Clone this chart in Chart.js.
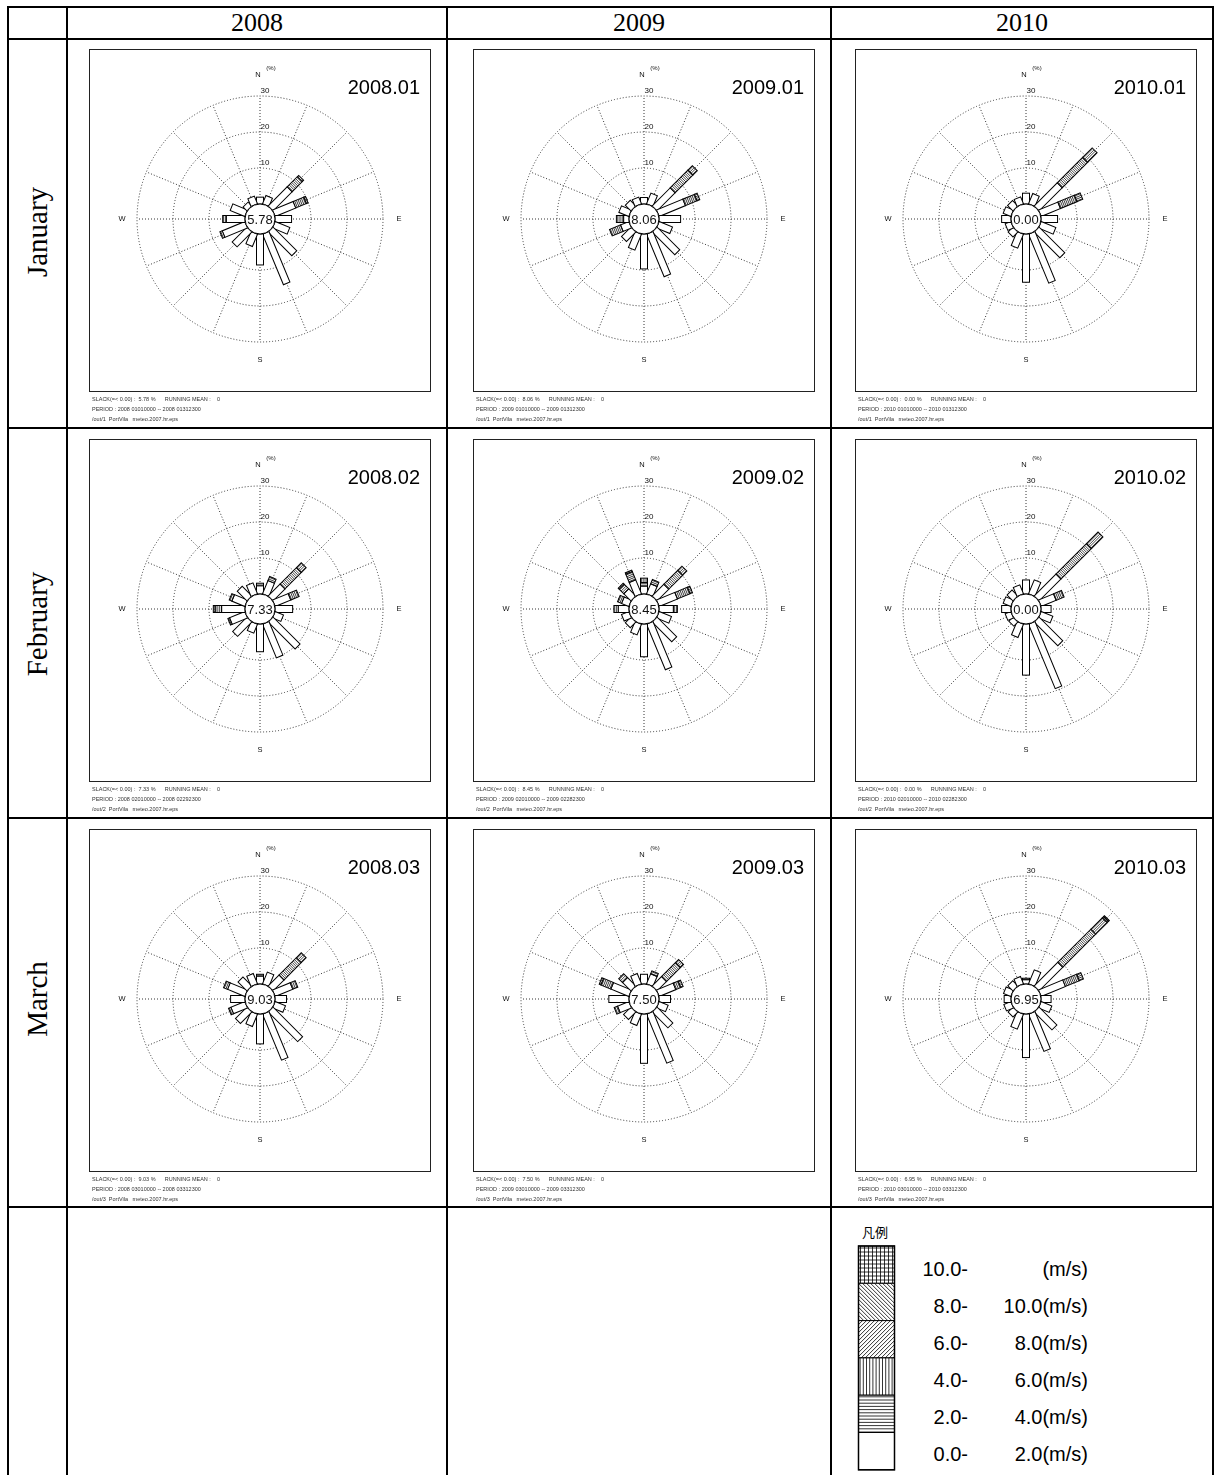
<!DOCTYPE html>
<html>
<head>
<meta charset="utf-8">
<script src="https://cdn.jsdelivr.net/npm/chart.js@4.4.1/dist/chart.umd.min.js"></script>
<style>
  body { margin: 0; background: #fff; }
  #page { position: relative; width: 1214px; height: 1475px; overflow: hidden; background: #fff; }
  .ln { position: absolute; background: #000; }
  .hdr { position: absolute; font-family: "Liberation Serif", "DejaVu Serif", serif; font-size: 26px; color: #000; text-align: center; line-height: 30px; }
  .rowlbl { position: absolute; font-family: "Liberation Serif", "DejaVu Serif", serif; font-size: 29px; color: #000; width: 200px; text-align: center; line-height: 30px; transform: rotate(-90deg); }
  canvas.rose { position: absolute; }
  .lg { position: absolute; font-family: "Liberation Sans", Arial, sans-serif; font-size: 20px; color: #000; line-height: 24px; text-align: right; }
</style>
</head>
<body>
<div id="page"></div>
<script>
// wind directions, clockwise from north
const directions = ["N", "NNE", "NE", "ENE", "E", "ESE", "SE", "SSE", "S", "SSW", "SW", "WSW", "W", "WNW", "NW", "NNW"];
const speedClasses = ["0.0-2.0", "2.0-4.0", "4.0-6.0", "6.0-8.0", "8.0-10.0", "10.0-"];
const years = ["2008", "2009", "2010"];
const months = ["January", "February", "March"];
const radialTicks = [0, 10, 20, 30];
const calmValues = [
  [5.78, 8.06, 0.00],
  [7.33, 8.45, 0.00],
  [9.03, 7.50, 6.95],
];
const periods = [
  ["2008 01010000 -- 2008 01312300", "2009 01010000 -- 2009 01312300", "2010 01010000 -- 2010 01312300"],
  ["2008 02010000 -- 2008 02292300", "2009 02010000 -- 2009 02282300", "2010 02010000 -- 2010 02282300"],
  ["2008 03010000 -- 2008 03312300", "2009 03010000 -- 2009 03312300", "2010 03010000 -- 2010 03312300"],
];

// frequency (%) per speed class, one row per class, 16 directions each
const rose2008_01 = [
  [1.9, 2.5, 7.5, 6.2, 4.6, 4.4, 9.3, 15.2, 8.6, 3.7, 5.8, 6.8, 5.2, 4.4, 1.5, 2.3],
  [0, 0, 4.0, 3.2, 0, 0, 0, 0, 0, 0, 0, 0.7, 1.0, 0, 0, 0],
  [0, 0, 0.5, 0.5, 0, 0, 0, 0, 0, 0, 0, 0, 0, 0, 0, 0],
];
const rose2009_01 = [
  [1.8, 3.2, 7.1, 7.9, 6.0, 4.0, 8.9, 12.8, 9.7, 4.8, 3.7, 2.5, 1.5, 3.0, 2.2, 2.0],
  [0, 0, 7.0, 3.5, 0, 0, 0, 0, 0, 0, 0, 3.3, 2.0, 0, 0, 0],
  [0, 0, 1.7, 0.8, 0, 0, 0, 0, 0, 0, 0, 0, 0, 0, 0, 0],
];
const rose2010_01 = [
  [3.0, 3.1, 9.1, 5.8, 4.6, 4.4, 10.1, 14.7, 13.4, 4.2, 1.9, 1.7, 2.6, 2.3, 2.1, 2.1],
  [0, 0, 10.0, 5.0, 0, 0, 0, 0, 0, 0, 0, 0, 0, 0, 0, 0],
  [0, 0, 3.7, 1.7, 0, 0, 0, 0, 0, 0, 0, 0, 0, 0, 0, 0],
];
const rose2008_02 = [
  [2.3, 4.0, 4.7, 4.7, 4.9, 2.5, 10.6, 10.1, 7.7, 2.7, 5.6, 4.6, 6.5, 3.9, 3.8, 3.3],
  [0.7, 1.2, 6.5, 2.5, 0, 0, 0, 0, 0, 0, 0, 0.5, 1.8, 0.8, 0, 0],
  [0, 0, 1.8, 0, 0, 0, 0, 0, 0, 0, 0, 0, 0.5, 0, 0, 0],
];
const rose2009_02 = [
  [2.2, 3.0, 4.6, 5.5, 4.0, 3.7, 7.7, 13.7, 9.1, 3.2, 2.2, 2.2, 3.0, 2.2, 2.8, 4.2],
  [1.0, 1.3, 5.5, 3.8, 1.1, 0, 0, 0, 0, 0, 0, 0, 1.2, 1.2, 1.8, 2.5],
  [1.2, 0, 1.6, 0.7, 0, 0, 0, 0, 0, 0, 0, 0, 0, 0, 0.4, 0.4],
];
const rose2010_02 = [
  [3.9, 4.2, 8.6, 4.5, 2.8, 3.5, 9.3, 19.4, 14.2, 4.0, 1.6, 1.7, 2.6, 2.3, 2.3, 2.7],
  [0, 0, 12.0, 2.4, 0, 0, 0, 0, 0, 0, 0, 0, 0, 0, 0, 0],
  [0, 0, 4.5, 0, 0, 0, 0, 0, 0, 0, 0, 0, 0, 0, 0, 0],
];
const rose2008_03 = [
  [2.2, 3.5, 4.3, 5.3, 3.2, 3.1, 11.6, 13.8, 8.3, 3.7, 4.5, 4.2, 4.0, 5.2, 3.5, 3.1],
  [0.5, 0, 6.8, 1.5, 0, 0, 0, 0, 0, 0, 0, 0.7, 0, 1.2, 0, 0],
  [0, 0, 1.9, 0, 0, 0, 0, 0, 0, 0, 0, 0, 0, 0, 0, 0],
];
const rose2009_03 = [
  [2.7, 3.0, 3.7, 5.0, 3.2, 2.7, 6.2, 14.7, 13.7, 3.4, 2.9, 3.4, 5.6, 5.4, 3.3, 3.1],
  [0, 0.9, 5.5, 1.5, 0, 0, 0, 0, 0, 0, 0, 1.0, 0, 3.0, 1.5, 0],
  [0, 0, 1.2, 0.7, 0, 0, 0, 0, 0, 0, 0, 0, 0, 0.5, 0, 0],
];
const rose2010_03 = [
  [1.2, 4.2, 9.3, 7.3, 2.8, 3.2, 7.0, 11.2, 12.1, 4.5, 1.9, 2.1, 1.9, 2.2, 2.0, 2.2],
  [0.4, 0, 13.0, 4.2, 0, 0, 0, 0, 0, 0, 0, 0, 0, 0, 0, 0],
  [0, 0, 4.5, 1.2, 0, 0, 0, 0, 0, 0, 0, 0, 0, 0, 0, 0],
  [0, 0, 0.5, 0, 0, 0, 0, 0, 0, 0, 0, 0, 0, 0, 0, 0],
  [0, 0, 0.3, 0, 0, 0, 0, 0, 0, 0, 0, 0, 0, 0, 0, 0],
];
const roses = [
  [rose2008_01, rose2009_01, rose2010_01],
  [rose2008_02, rose2009_02, rose2010_02],
  [rose2008_03, rose2009_03, rose2010_03],
];

// page geometry
const colLines = [7, 66, 446, 830, 1212];
const rowLines = [6, 38, 427, 817, 1206];
const boxLeft = [89, 473, 855];
const boxTop = [49, 439, 829];
const rowLabelY = [232, 624, 999];
const BOX_W = 342, BOX_H = 343, FOOT_H = 36;
const BAR_W = 7;
const SANS = '"Liberation Sans", Arial, sans-serif';

const page = document.getElementById("page");

// Add an absolutely positioned element to the page.
const addEl = (tag, cls, style, text) => {
  const el = document.createElement(tag);
  if (cls) el.className = cls;
  Object.assign(el.style, style);
  if (text !== undefined) el.textContent = text;
  page.appendChild(el);
  return el;
};

// table rules
colLines.forEach((x) => addEl("div", "ln", { left: x + "px", top: rowLines[0] + "px", width: "2px", height: 1475 - rowLines[0] + "px" }));
rowLines.forEach((y) => addEl("div", "ln", { left: colLines[0] + "px", top: y + "px", width: 1214 - colLines[0] + "px", height: "2px" }));

years.forEach((y, c) => {
  addEl("div", "hdr", { left: colLines[c + 1] + 2 + "px", top: "8px", width: colLines[c + 2] - colLines[c + 1] - 2 + "px" }, y);
});
months.forEach((m, r) => {
  addEl("div", "rowlbl", { left: 37 - 100 + "px", top: rowLabelY[r] - 15 + "px" }, m);
});

// Fill rectangle (x0,y0,w,h) with the hatch of speed class k.
const hatchRect = (ctx, k, x0, y0, w, h, gap, lw) => {
  ctx.save();
  ctx.beginPath();
  ctx.rect(x0, y0, w, h);
  ctx.fillStyle = "#fff";
  ctx.fill();
  ctx.clip();
  ctx.beginPath();
  if (k === 1 || k === 5) for (let y = y0 + gap / 2; y < y0 + h; y += gap) { ctx.moveTo(x0, y); ctx.lineTo(x0 + w, y); }
  if (k === 2 || k === 5) for (let x = x0 + gap / 2; x < x0 + w; x += gap) { ctx.moveTo(x, y0); ctx.lineTo(x, y0 + h); }
  if (k === 3) for (let t = -w; t < h + w; t += gap) { ctx.moveTo(x0, y0 + t + w); ctx.lineTo(x0 + w, y0 + t); }
  if (k === 4) for (let t = -w; t < h + w; t += gap) { ctx.moveTo(x0, y0 + t); ctx.lineTo(x0 + w, y0 + t + w); }
  ctx.lineWidth = lw;
  ctx.strokeStyle = "#000";
  ctx.stroke();
  ctx.restore();
  ctx.lineWidth = 1;
  ctx.strokeStyle = "#000";
  ctx.strokeRect(x0, y0, w, h);
};

// Draws stacked bars, calm circle and all panel texts using the radial scale.
const rosePlugin = {
  id: "rose",
  afterDraw(chart, args, opts) {
    const ctx = chart.ctx;
    const s = chart.scales.r;
    const cx = s.xCenter, cy = s.yCenter;
    const r0 = s.getDistanceFromCenterForValue(0);
    const sets = chart.data.datasets;

    ctx.save();
    directions.forEach((d, i) => {
      const ang = s.getIndexAngle(i);
      ctx.save();
      ctx.translate(cx, cy);
      ctx.rotate(ang);
      let cum = 0;
      sets.forEach((ds, k) => {
        const v = ds.data[i];
        if (!v) return;
        const a = s.getDistanceFromCenterForValue(cum);
        const b = s.getDistanceFromCenterForValue(cum + v);
        hatchRect(ctx, k, -BAR_W / 2, -b, BAR_W, b - a, 1.8, 0.7);
        cum += v;
      });
      ctx.restore();
    });

    // calm circle
    ctx.beginPath();
    ctx.arc(cx, cy, r0, 0, Math.PI * 2);
    ctx.fillStyle = "#fff";
    ctx.fill();
    ctx.lineWidth = 1;
    ctx.strokeStyle = "#000";
    ctx.stroke();
    ctx.fillStyle = "#111";
    ctx.textAlign = "center";
    ctx.textBaseline = "middle";
    ctx.font = "13px " + SANS;
    ctx.fillText(opts.calm.toFixed(2), cx, cy + 1);

    // ring labels
    ctx.font = "8px " + SANS;
    radialTicks.slice(1).forEach((t) => {
      ctx.fillText(String(t), cx + 5, cy - s.getDistanceFromCenterForValue(t) - 5);
    });

    // compass letters
    ctx.font = "7.5px " + SANS;
    ctx.fillText("N", cx - 2, cy - 144);
    ctx.fillText("S", cx, cy + 141);
    ctx.fillText("W", cx - 138, cy);
    ctx.fillText("E", cx + 139, cy);
    ctx.font = "6px " + SANS;
    ctx.fillText("(%)", cx + 11, cy - 151);

    // panel title
    ctx.font = "20px " + SANS;
    ctx.textAlign = "right";
    ctx.fillStyle = "#000";
    ctx.fillText(opts.title, 331, 39);

    // frame
    ctx.lineWidth = 1;
    ctx.strokeStyle = "#222";
    ctx.strokeRect(0.5, 0.5, BOX_W - 1, BOX_H - 1);

    // footer
    ctx.font = "5.5px " + SANS;
    ctx.textAlign = "left";
    ctx.fillStyle = "#333";
    ctx.fillText("SLACK(=< 0.00) :  " + opts.calm.toFixed(2) + " %      RUNNING MEAN :    0", 3, BOX_H + 7);
    ctx.fillText("PERIOD : " + opts.period, 3, BOX_H + 17);
    ctx.fillText("/out/" + opts.month + "  PortVila   meteo.2007.hr.eps", 3, BOX_H + 27);
    ctx.restore();
  },
};

roses.forEach((row, r) => {
  row.forEach((rose, c) => {
    const canvas = addEl("canvas", "rose", { left: boxLeft[c] + "px", top: boxTop[r] + "px" });
    canvas.width = BOX_W;
    canvas.height = BOX_H + FOOT_H;
    new Chart(canvas, {
      type: "radar",
      data: {
        labels: directions,
        datasets: rose.map((vals, k) => ({
          label: speedClasses[k],
          data: vals,
          showLine: false,
          pointRadius: 0,
          borderWidth: 0,
          fill: false,
        })),
      },
      options: {
        responsive: false,
        animation: false,
        events: [],
        layout: { padding: { left: 48, right: 48, top: 47, bottom: BOX_H + FOOT_H - 47 - 246 } },
        plugins: {
          legend: { display: false },
          tooltip: { enabled: false },
          rose: {
            calm: calmValues[r][c],
            title: years[c] + ".0" + (r + 1),
            period: periods[r][c],
            month: r + 1,
          },
        },
        scales: {
          r: {
            min: -15 / 3.6,
            max: 30,
            startAngle: 0,
            afterBuildTicks: (scale) => {
              scale.ticks = radialTicks.map((v) => ({ value: v }));
            },
            ticks: { display: false },
            pointLabels: { display: false },
            grid: { circular: true, color: "#333", lineWidth: 1 },
            border: { dash: [1, 2] },
            angleLines: { color: "#333", lineWidth: 1, borderDash: [1, 2] },
          },
        },
      },
      plugins: [rosePlugin],
    });
  });
});

// legend block
addEl("div", "", { position: "absolute", left: "862px", top: "1223px", font: '13px "Noto Sans CJK JP", sans-serif', lineHeight: "18px" }, "凡例");
const lg = addEl("canvas", "", { position: "absolute", left: "857px", top: "1245px" });
lg.width = 40;
lg.height = 228;
const lctx = lg.getContext("2d");
const blockH = 37.3;
[5, 4, 3, 2, 1, 0].forEach((k, j) => {
  hatchRect(lctx, k, 1.5, 1 + j * blockH, 36, blockH, k >= 3 ? 4 : 3.2, 0.8);
});
lctx.lineWidth = 1.5;
lctx.strokeRect(1.5, 1, 36, blockH * 6);

const legendLeft = ["10.0-", "8.0-", "6.0-", "4.0-", "2.0-", "0.0-"];
const legendRight = ["(m/s)", "10.0(m/s)", "8.0(m/s)", "6.0(m/s)", "4.0(m/s)", "2.0(m/s)"];
const legendY = [1269, 1306, 1343, 1380, 1417, 1454];
legendY.forEach((y, j) => {
  addEl("div", "lg", { left: "900px", width: "68px", top: y - 12 + "px" }, legendLeft[j]);
  addEl("div", "lg", { left: "980px", width: "108px", top: y - 12 + "px" }, legendRight[j]);
});
</script>
</body>
</html>
